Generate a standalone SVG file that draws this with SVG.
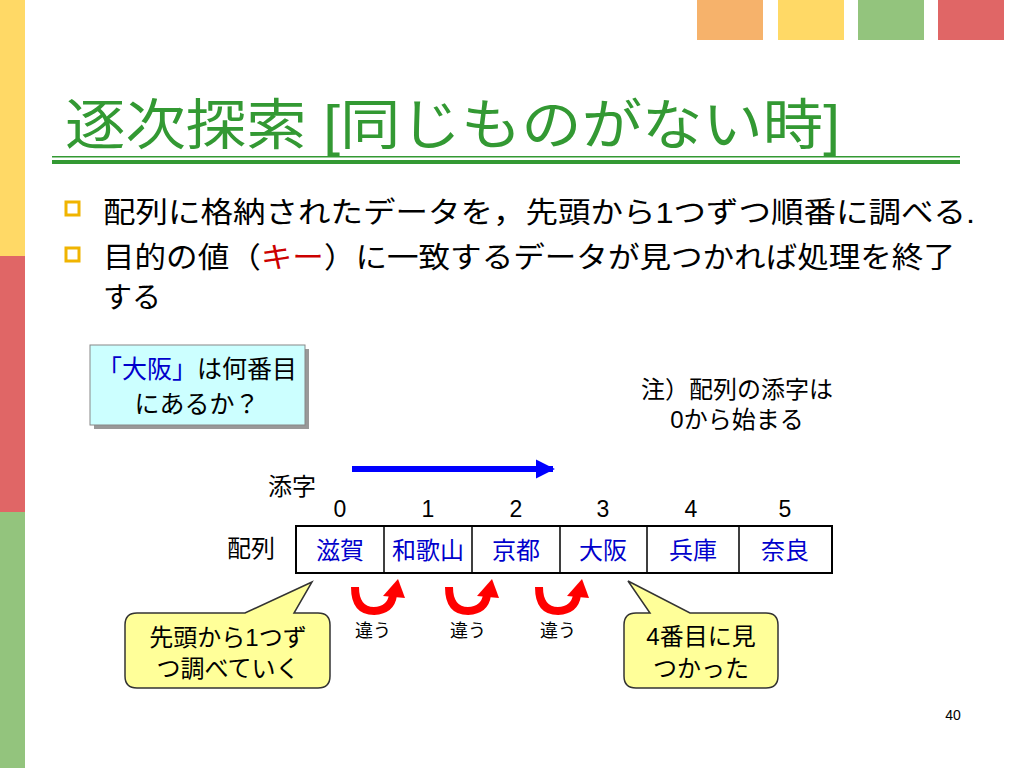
<svg xmlns="http://www.w3.org/2000/svg" width="1024" height="768" viewBox="0 0 1024 768">
<defs>
<style>
text{font-family:"Liberation Sans","Noto Sans CJK JP",sans-serif;fill:#000}
.title{font-size:55px;fill:#339933}
.bul{font-size:29px}
.q{font-size:25px}
.s{font-size:24px}
.cell{font-size:24px;fill:#0000CC;text-anchor:middle}
.idx{font-size:23px;text-anchor:middle}
.small{font-size:18px}
.call{fill:#FFFF99;stroke:#333;stroke-width:1.5}
.bx{fill:none;stroke:#F0B400;stroke-width:3}
.cur{fill:none;stroke:#FF0000;stroke-width:8}
</style>
<marker id="bh" viewBox="0 0 10 10" refX="9" refY="5" markerWidth="3.2" markerHeight="3.2" orient="auto" markerUnits="strokeWidth">
<path d="M0,0 L10,5 L0,10 Z" fill="#0000FF"/>
</marker>
<g id="curved">
<path class="cur" d="M355,587 Q355,611 374,611 Q391,610 393,595"/>
<path d="M383,596 L398,579 L405,598 Z" fill="#FF0000"/>
</g>
</defs>
<rect width="1024" height="768" fill="#fff"/>
<g id="decor">
<rect x="0" y="0" width="25" height="256" fill="#FFD966"/>
<rect x="0" y="256" width="25" height="256" fill="#E06666"/>
<rect x="0" y="512" width="25" height="256" fill="#93C47D"/>
<rect x="697" y="0" width="66" height="40" fill="#F6B26B"/>
<rect x="778" y="0" width="66" height="40" fill="#FFD966"/>
<rect x="858" y="0" width="66" height="40" fill="#93C47D"/>
<rect x="938" y="0" width="66" height="40" fill="#E06666"/>
</g>
<g id="title">
<text class="title" x="65" y="144" textLength="775" lengthAdjust="spacingAndGlyphs">逐次探索 [同じものがない時]</text>
<rect x="52" y="156" width="908" height="1.5" fill="#339933"/>
<rect x="52" y="160" width="908" height="4" fill="#339933"/>
</g>
<g id="bullets">
<rect class="bx" x="66" y="202" width="13" height="13"/>
<rect class="bx" x="66" y="248" width="13" height="13"/>
<text class="bul" x="103" y="223" textLength="872" lengthAdjust="spacingAndGlyphs">配列に格納されたデータを，先頭から1つずつ順番に調べる.</text>
<text class="bul" x="103" y="268" textLength="852" lengthAdjust="spacingAndGlyphs">目的の値（<tspan fill="#CC0000">キー</tspan>）に一致するデータが見つかれば処理を終了</text>
<text class="bul" x="103" y="308">する</text>
</g>
<g id="question">
<rect x="94" y="349" width="215" height="80" fill="#999"/>
<rect x="90" y="345" width="215" height="80" fill="#CCFFFF" stroke="#888" stroke-width="1"/>
<text class="q" x="197" y="378" text-anchor="middle"><tspan fill="#0000CC">「大阪」</tspan>は何番目</text>
<text class="q" x="197" y="413" text-anchor="middle">にあるか？</text>
</g>
<g id="note">
<text class="s" x="737" y="398" text-anchor="middle">注）配列の添字は</text>
<text class="s" x="737" y="428" text-anchor="middle">0から始まる</text>
</g>
<g id="index-labels">
<text class="s" x="268" y="495">添字</text>
<text class="idx" x="340" y="517">0</text>
<text class="idx" x="428" y="517">1</text>
<text class="idx" x="516" y="517">2</text>
<text class="idx" x="603" y="517">3</text>
<text class="idx" x="691" y="517">4</text>
<text class="idx" x="785" y="517">5</text>
<text class="s" x="227" y="557">配列</text>
</g>
<g id="array">
<rect x="296" y="526" width="536" height="47" fill="#fff" stroke="#000" stroke-width="2"/>
<path d="M384,526V573M472,526V573M560,526V573M647,526V573M739,526V573" stroke="#000" stroke-width="1.5"/>
<text class="cell" x="340" y="559">滋賀</text>
<text class="cell" x="428" y="559">和歌山</text>
<text class="cell" x="516" y="559">京都</text>
<text class="cell" x="603" y="559">大阪</text>
<text class="cell" x="693" y="559">兵庫</text>
<text class="cell" x="785" y="559">奈良</text>
</g>
<g id="connectors">
<line x1="352" y1="469" x2="553" y2="469" stroke="#0000FF" stroke-width="6" marker-end="url(#bh)"/>
<use href="#curved"/>
<use href="#curved" x="94"/>
<use href="#curved" x="184"/>
</g>
<g id="ne-labels">
<text class="small" x="355" y="637">違う</text>
<text class="small" x="450" y="637">違う</text>
<text class="small" x="540" y="637">違う</text>
</g>
<g id="callout-left">
<path class="call" d="M137,613 L245,613 L312,582 L294,613 L318,613 Q330,613 330,625 L330,676 Q330,688 318,688 L137,688 Q125,688 125,676 L125,625 Q125,613 137,613 Z"/>
<text class="s" x="228" y="646" text-anchor="middle">先頭から1つず</text>
<text class="s" x="228" y="677" text-anchor="middle">つ調べていく</text>
</g>
<g id="callout-right">
<path class="call" d="M636,613 L650,613 L628,581 L690,613 L766,613 Q778,613 778,625 L778,676 Q778,688 766,688 L636,688 Q624,688 624,676 L624,625 Q624,613 636,613 Z"/>
<text class="s" x="701" y="645" text-anchor="middle">4番目に見</text>
<text class="s" x="701" y="677" text-anchor="middle">つかった</text>
</g>
<text x="953" y="720" text-anchor="middle" style="font-size:14px">40</text>
</svg>
